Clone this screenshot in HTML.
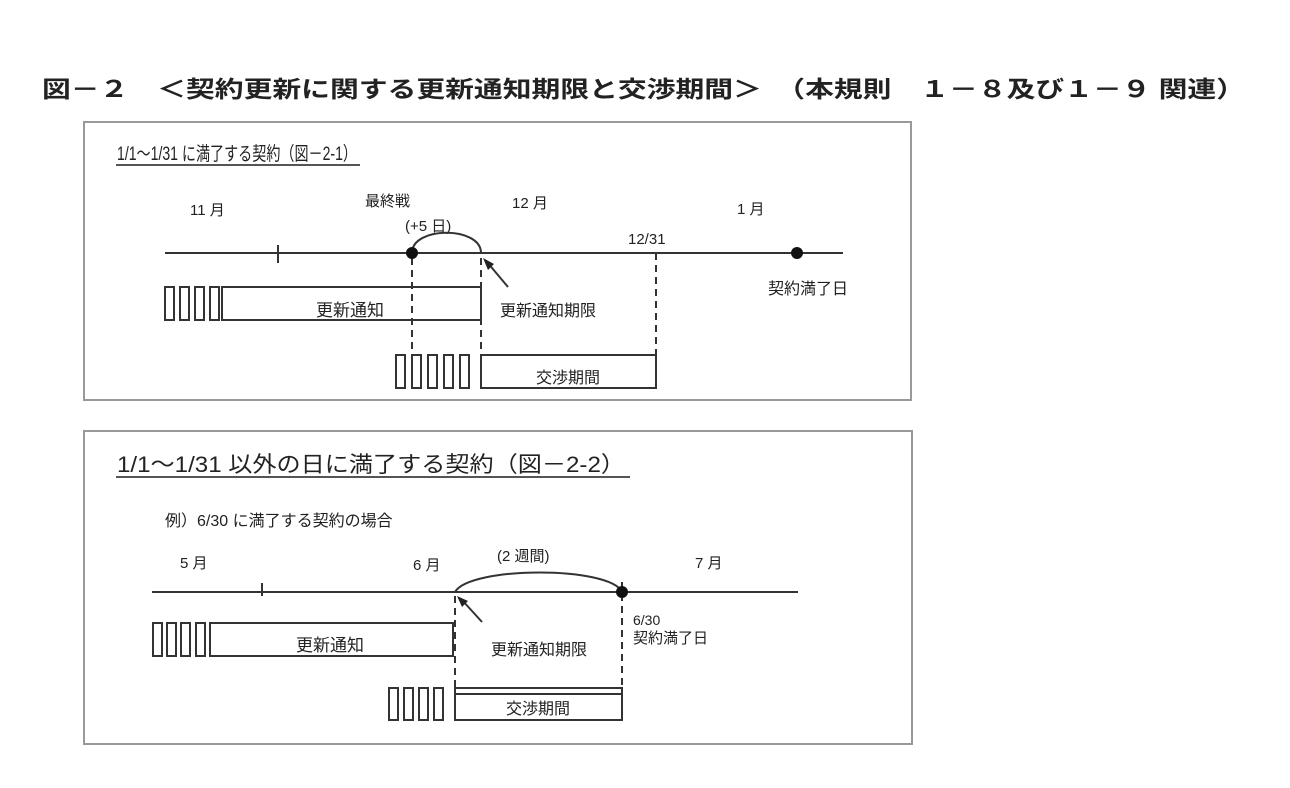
<!DOCTYPE html>
<html><head><meta charset="utf-8"><style>
html,body{margin:0;padding:0;background:#fff;}
svg{display:block;}
text{font-family:"Liberation Sans","Noto Sans CJK JP",sans-serif;fill:#222;}
</style></head><body>
<svg width="1290" height="788" viewBox="0 0 1290 788" xmlns="http://www.w3.org/2000/svg">
<text x="42" y="97" font-size="23" font-weight="bold" textLength="1203" lengthAdjust="spacingAndGlyphs">図－２　＜契約更新に関する更新通知期限と交渉期間＞　（本規則　１－８及び１－９ 関連）</text>

<g fill="none" stroke="#333" stroke-width="2">
<rect x="84" y="122" width="827" height="278" stroke="#999"/>
<rect x="84" y="431" width="828" height="313" stroke="#999"/>
</g>

<!-- Panel 1 -->
<text x="117" y="160" font-size="19" textLength="240" lengthAdjust="spacingAndGlyphs">1/1～1/31 に満了する契約（図－2-1）</text>
<line x1="116" y1="165" x2="360" y2="165" stroke="#555" stroke-width="2"/>
<text x="190" y="215" font-size="15">11 月</text>
<text x="365" y="206" font-size="15">最終戦</text>
<text x="405" y="231" font-size="15">(+5 日)</text>
<text x="512" y="208" font-size="15">12 月</text>
<text x="628" y="244" font-size="15">12/31</text>
<text x="737" y="214" font-size="15">1 月</text>
<g stroke="#333" stroke-width="2" fill="none">
<line x1="165" y1="253" x2="843" y2="253"/>
<line x1="278" y1="245" x2="278" y2="263"/>
<path d="M412 253 C412 226 481 226 481 253"/>
<line x1="508" y1="287" x2="487" y2="262"/>
<g stroke-dasharray="7,5">
<line x1="412" y1="258" x2="412" y2="355"/>
<line x1="481" y1="258" x2="481" y2="355"/>
<line x1="656" y1="253" x2="656" y2="355"/>
</g>
<rect x="222" y="287" width="259" height="33"/>
<rect x="165" y="287" width="9" height="33"/><rect x="180" y="287" width="9" height="33"/><rect x="195" y="287" width="9" height="33"/><rect x="210" y="287" width="9" height="33"/>
<rect x="481" y="355" width="175" height="33"/>
<rect x="396" y="355" width="9" height="33"/><rect x="412" y="355" width="9" height="33"/><rect x="428" y="355" width="9" height="33"/><rect x="444" y="355" width="9" height="33"/><rect x="460" y="355" width="9" height="33"/>
</g>
<polygon points="483,258 494,264 488,270" fill="#222"/>
<circle cx="412" cy="253" r="6" fill="#111"/>
<circle cx="797" cy="253" r="6" fill="#111"/>
<text x="350" y="316" font-size="17" text-anchor="middle">更新通知</text>
<text x="500" y="316" font-size="16">更新通知期限</text>
<text x="768" y="294" font-size="16">契約満了日</text>
<text x="568" y="383" font-size="16" text-anchor="middle">交渉期間</text>

<!-- Panel 2 -->
<text x="117" y="472" font-size="22" textLength="508" lengthAdjust="spacingAndGlyphs">1/1～1/31 以外の日に満了する契約（図－2-2）</text>
<line x1="116" y1="477" x2="630" y2="477" stroke="#555" stroke-width="2"/>
<text x="165" y="526" font-size="16">例）6/30 に満了する契約の場合</text>
<text x="180" y="568" font-size="15">5 月</text>
<text x="413" y="570" font-size="15">6 月</text>
<text x="497" y="561" font-size="15">(2 週間)</text>
<text x="695" y="568" font-size="15">7 月</text>
<g stroke="#333" stroke-width="2" fill="none">
<line x1="152" y1="592" x2="798" y2="592"/>
<line x1="262" y1="583" x2="262" y2="596"/>
<path d="M455 592 C470 566 610 566 622 592"/>
<line x1="482" y1="622" x2="462" y2="600"/>
<g stroke-dasharray="7,5">
<line x1="455" y1="596" x2="455" y2="690"/>
<line x1="622" y1="582" x2="622" y2="690"/>
</g>
<rect x="210" y="623" width="243" height="33"/>
<rect x="153" y="623" width="9" height="33"/><rect x="167" y="623" width="9" height="33"/><rect x="181" y="623" width="9" height="33"/><rect x="196" y="623" width="9" height="33"/>
<rect x="455" y="688" width="167" height="32"/>
<line x1="455" y1="694" x2="622" y2="694"/>
<rect x="389" y="688" width="9" height="32"/><rect x="404" y="688" width="9" height="32"/><rect x="419" y="688" width="9" height="32"/><rect x="434" y="688" width="9" height="32"/>
</g>
<polygon points="457,596 468,601 462,607" fill="#222"/>
<circle cx="622" cy="592" r="6" fill="#111"/>
<text x="330" y="651" font-size="17" text-anchor="middle">更新通知</text>
<text x="539" y="655" font-size="16" text-anchor="middle">更新通知期限</text>
<text x="633" y="625" font-size="14">6/30</text>
<text x="633" y="643" font-size="15">契約満了日</text>
<text x="538" y="714" font-size="16" text-anchor="middle">交渉期間</text>
</svg>
</body></html>
